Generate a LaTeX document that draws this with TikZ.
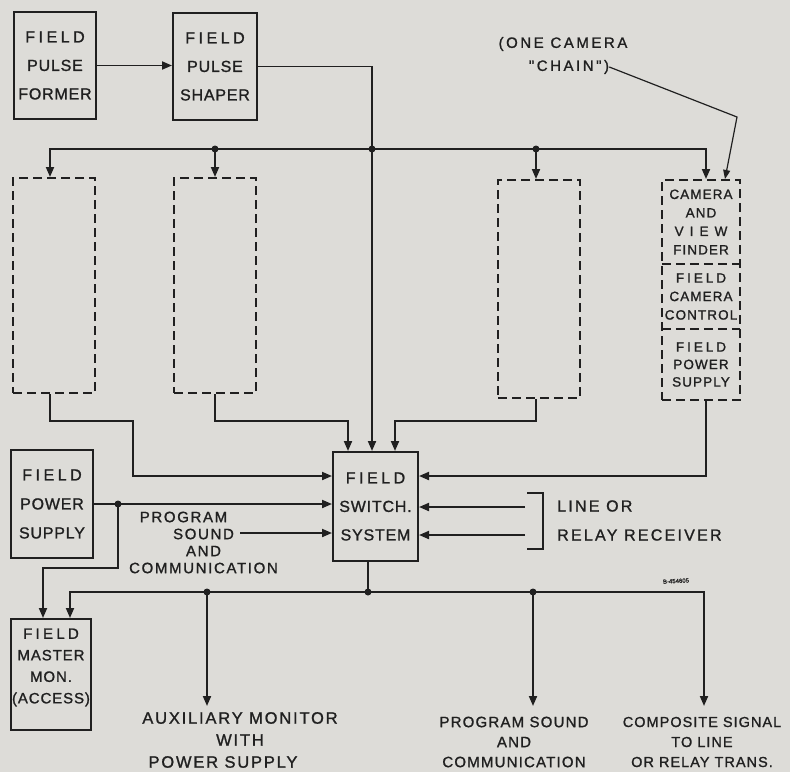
\documentclass[tikz,border=0pt]{standalone}
\usepackage{fontspec}
\setmainfont{Liberation Sans}
\newfontfamily\lab{Liberation Sans}[FakeBold=1.2]
\usetikzlibrary{arrows.meta,calc}
\newcommand\ls[1]{\addfontfeatures{LetterSpace=#1}}
\newcommand\W[1]{{\addfontfeatures{LetterSpace=22}#1}}
\newcommand\WW[1]{{\addfontfeatures{LetterSpace=45}#1}}
\definecolor{paper}{RGB}{221,220,216}
\definecolor{ink}{RGB}{32,32,32}
\begin{document}
\begin{tikzpicture}[x=1pt,y=-1pt,
  box/.style={draw=ink, line width=2pt, inner sep=0pt, align=center, text=ink,
    font={\lab\fontsize{16}{28.5}\selectfont\ls{5}}},
  dbox/.style={box, dash pattern=on 9pt off 5pt},
  wire/.style={draw=ink, line width=1.9pt},
  arr/.style={wire, -{Triangle[length=10pt,width=8pt]}},
  jdot/.style={circle, fill=ink, inner sep=0pt, minimum size=7pt},
  txt/.style={inner sep=0pt, align=center, text=ink},
  camtxt/.style={txt, font={\lab\fontsize{13.5}{18.5}\selectfont\ls{8}}}]
\fill[paper] (0,0) rectangle (790,772);
\useasboundingbox (0,0) rectangle (790,772);

% top boxes
\node[box, minimum width=82pt, minimum height=107pt] (fpf) at (55,65.5) {\W{FIELD}\\PULSE\\FORMER};
\node[box, minimum width=84pt, minimum height=107pt] (fps) at (215,66.5) {\W{FIELD}\\PULSE\\SHAPER};

% dashed camera chains
\node[dbox, minimum width=82pt, minimum height=215pt] (d1) at (54,285.5) {};
\node[dbox, minimum width=82pt, minimum height=215pt] (d2) at (215,285.5) {};
\node[dbox, minimum width=82pt, minimum height=218pt] (d3) at (539,289) {};
\node[dbox, minimum width=78pt, minimum height=220pt] (camchain) at (701,290) {};
\node[camtxt, minimum width=78pt, minimum height=84pt] (cam1) at (701,222) {CAMERA\\AND\\\WW{VIEW}\\FINDER};
\node[camtxt, minimum width=78pt, minimum height=65pt] (cam2) at (701,296.5) {\W{FIELD}\\CAMERA\\CONTROL};
\node[camtxt, minimum width=78pt, minimum height=71pt, font={\lab\fontsize{13.5}{17.5}\selectfont\ls{8}}] (cam3) at (701,364.5) {\W{FIELD}\\POWER\\SUPPLY};
\draw[ink, line width=2pt, dash pattern=on 9pt off 5pt] (cam1.south west) -- (cam1.south east);
\draw[ink, line width=2pt, dash pattern=on 9pt off 5pt] (cam2.south west) -- (cam2.south east);

% central & side boxes
\node[box, minimum width=85pt, minimum height=109pt] (fsw) at (375.5,506.5) {\W{FIELD}\\SWITCH.\\SYSTEM};
\node[box, minimum width=82pt, minimum height=108pt, font={\lab\fontsize{16}{29}\selectfont\ls{5}}] (fps2) at (52,504) {\W{FIELD}\\POWER\\SUPPLY};
\node[box, minimum width=80pt, minimum height=111pt] (fmm) at (51,674.5) {};
\node[txt, font={\lab\fontsize{15}{21.5}\selectfont\ls{6}}] (fmmt) at (51,667.5) {\W{FIELD}\\MASTER\\MON.\\(ACCESS)};

% labels
\node[txt, font={\lab\fontsize{15}{24}\selectfont\ls{17}}] (onecam) at (563,44) {(ONE CAMERA};
\node[txt, font={\lab\fontsize{15}{24}\selectfont\ls{17}}] (chain) at (569,67) {"CHAIN")};
\node[txt, font={\lab\fontsize{15}{17}\selectfont\ls{11}}] (pstxt) at (203.5,542.5)
  {PROGRAM\hspace*{40pt}\\SOUND\hspace*{50pt}\\AND\hspace*{54pt}\\COMMUNICATION};
\node[txt, anchor=west, align=left, font={\lab\fontsize{16}{29}\selectfont\ls{14}}] (lrr) at (557,520.5) {LINE OR\\RELAY RECEIVER};
\node[txt, font={\lab\fontsize{16.5}{22}\selectfont\ls{11}}] (aux) at (240,740)
  {AUXILIARY MONITOR\\WITH\hspace*{50pt}\\POWER SUPPLY\hspace*{34pt}};
\node[txt, font={\lab\fontsize{15}{20}\selectfont\ls{8}}] (psout) at (514,742) {PROGRAM SOUND\\AND\\COMMUNICATION};
\node[txt, font={\lab\fontsize{14.5}{20}\selectfont\ls{7}}] (comp) at (702,742) {COMPOSITE SIGNAL\\TO LINE\hspace*{40pt}\\OR RELAY TRANS.};
\node[txt, rotate=3, font={\lab\fontsize{6}{7}\selectfont}] (code) at (676,581) {B-454605};

% coordinates
\coordinate (j1) at (372,149);
\coordinate (b1) at (50,149);
\coordinate (b2) at (215,149);
\coordinate (b3) at (536,149);
\coordinate (b4) at (706,149);
\coordinate (k1) at (133,421);
\coordinate (k2) at (0,476);
\coordinate (k3) at (348,421);
\coordinate (k4) at (395,421);
\coordinate (k5) at (118,504);
\coordinate (k6) at (43,568);
\coordinate (ps) at (240,533);
\coordinate (lr1) at (525,507);
\coordinate (lr2) at (525,535);
\coordinate (br1) at (527,493);
\coordinate (br2) at (543,549);
\coordinate (mS) at (368,592);
\coordinate (m0) at (70,592);
\coordinate (m1) at (207,592);
\coordinate (m3) at (533,592);
\coordinate (m4) at (704,592);
\coordinate (ae) at (0,706);
\coordinate (ldr) at (737,117);
\coordinate (lx) at (725,0);

% top connections
\draw[arr] (fpf.east) -- (fpf.east -| fps.west);
\draw[arr] (fps.east) -| (fsw.north -| j1);
\draw[arr] (j1) -| (d1.north -| b1);
\draw[arr] (j1) -| (camchain.north -| b4);
\draw[arr] (b2) -- (d2.north);
\draw[arr] (b3) -- (d3.north -| b3);
\node[jdot] (dj1) at (j1) {};
\node[jdot] (dj2) at (b2) {};
\node[jdot] (dj3) at (b3) {};
\draw[ink, line width=1.2pt, -{Triangle[length=9pt,width=7pt]}] (chain.east) -- (ldr) -- (camchain.north -| lx);

% into switch
\draw[arr] (d1.south -| b1) |- (k1) |- (fsw.west |- k2);
\draw[arr] (d2.south) |- (k3) -- (k3 |- fsw.north);
\draw[arr] (d3.south -| b3) |- (k4) -- (k4 |- fsw.north);
\draw[arr] (camchain.south -| b4) |- (fsw.east |- k2);
\draw[arr] (fps2.east) -- (fps2.east -| fsw.west);
\draw[arr] (k5) |- (k6) -- (k6 |- fmm.north);
\node[jdot] (dk5) at (k5) {};
\draw[arr] (ps) -- (ps -| fsw.west);
\draw[arr] (lr1) -- (lr1 -| fsw.east);
\draw[arr] (lr2) -- (lr2 -| fsw.east);
\draw[wire] (br1) -| (br2) -- (br2 -| br1);

% outputs
\draw[wire] (fsw.south -| mS) -- (mS);
\draw[arr] (mS) -| (fmm.north -| m0);
\draw[arr] (mS) -| (ae -| m4);
\draw[arr] (m1) -- (ae -| m1);
\draw[arr] (m3) -- (ae -| m3);
\node[jdot] (dm1) at (m1) {};
\node[jdot] (dmS) at (mS) {};
\node[jdot] (dm3) at (m3) {};
\end{tikzpicture}
\end{document}
